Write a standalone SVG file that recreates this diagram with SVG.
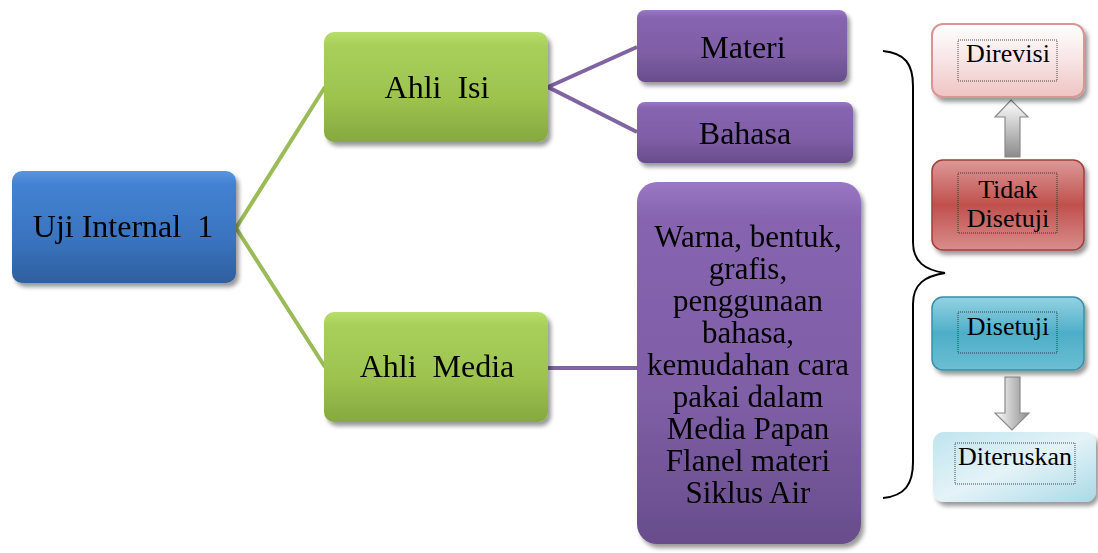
<svg xmlns="http://www.w3.org/2000/svg" width="1098" height="553" viewBox="0 0 1098 553">
<defs>
<filter id="sh" x="-10%" y="-10%" width="130%" height="130%">
<feDropShadow dx="3" dy="4" stdDeviation="2" flood-color="#000" flood-opacity="0.4"/>
</filter>
<linearGradient id="gBlue" x1="0" y1="0" x2="0" y2="1">
<stop offset="0" stop-color="#5a95e0"/><stop offset="0.12" stop-color="#4382d2"/><stop offset="0.6" stop-color="#3a74c0"/><stop offset="1" stop-color="#2f5f9e"/>
</linearGradient>
<linearGradient id="gGreen" x1="0" y1="0" x2="0" y2="1">
<stop offset="0" stop-color="#b8de6c"/><stop offset="0.12" stop-color="#a8d05a"/><stop offset="0.6" stop-color="#9dc34f"/><stop offset="1" stop-color="#86a83f"/>
</linearGradient>
<linearGradient id="gPurple" x1="0" y1="0" x2="0" y2="1">
<stop offset="0" stop-color="#9a78c4"/><stop offset="0.1" stop-color="#8764b0"/><stop offset="0.6" stop-color="#7f5ea6"/><stop offset="1" stop-color="#684d8b"/>
</linearGradient>
<linearGradient id="gPink" x1="0" y1="0" x2="0" y2="1">
<stop offset="0" stop-color="#ffffff"/><stop offset="0.5" stop-color="#f8e4e4"/><stop offset="1" stop-color="#eec4c3"/>
</linearGradient>
<linearGradient id="gRed" x1="0" y1="0" x2="0" y2="1">
<stop offset="0" stop-color="#dc9a98"/><stop offset="0.5" stop-color="#c0504d"/><stop offset="1" stop-color="#d88e8c"/>
</linearGradient>
<linearGradient id="gTeal" x1="0" y1="0" x2="0" y2="1">
<stop offset="0" stop-color="#93d2e2"/><stop offset="0.5" stop-color="#4eaec8"/><stop offset="1" stop-color="#6cbed3"/>
</linearGradient>
<linearGradient id="gLight" x1="0" y1="0" x2="1" y2="1">
<stop offset="0" stop-color="#bfe4ee"/><stop offset="0.5" stop-color="#e4f3f8"/><stop offset="1" stop-color="#a9d9e6"/>
</linearGradient>
<linearGradient id="gArrow" x1="0" y1="0" x2="1" y2="0">
<stop offset="0" stop-color="#ffffff"/><stop offset="1" stop-color="#8c8c8c"/>
</linearGradient>
<linearGradient id="gArrowV" x1="0" y1="0" x2="0" y2="1">
<stop offset="0" stop-color="#ffffff"/><stop offset="1" stop-color="#8a8a8a"/>
</linearGradient>
<style>
.t{font-family:"Liberation Serif","Times New Roman",serif;fill:#000;text-anchor:middle;white-space:pre}
.big{font-size:32px}
.mid{font-size:31px}
.sm{font-size:26px}
.dot{fill:none;stroke:#222;stroke-width:0.8;stroke-dasharray:1 1}
.cg{fill:none;stroke:#9bbb59;stroke-width:4}
.cp{fill:none;stroke:#8064a2;stroke-width:4}
.brace{fill:none;stroke:#000;stroke-width:2}
.arr{stroke:#8a8a8a;stroke-width:1.2}
</style>
</defs>

<g id="connectors">
<polyline class="cg" points="325,87 236,228 325,367"/>
<polyline class="cp" points="637,47 548,87 637,132"/>
<line class="cp" x1="548" y1="368" x2="637" y2="368"/>
<path class="brace" d="M883,51 C905,53 913,64 913,86 L913,242 C913,262 925,270 945,273 C925,276 913,284 913,304 L913,462 C913,484 905,496 883,498"/>
<path class="arr" fill="url(#gArrowV)" d="M1011,100 L1028,117 L1020,117 L1020,157 L1005,157 L1005,117 L995,117 Z"/>
<path class="arr" fill="url(#gArrow)" d="M1005,377 L1020,377 L1020,413 L1029,413 L1012,430 L995,413 L1005,413 Z"/>
</g>

<g id="uji" filter="url(#sh)">
<rect x="12" y="171" width="224" height="112" rx="10" fill="url(#gBlue)"/>
<text class="t big" x="123" y="237">Uji Internal  1</text>
</g>

<g id="ahli-isi" filter="url(#sh)">
<rect x="324" y="32" width="224" height="110" rx="10" fill="url(#gGreen)"/>
<text class="t big" x="437" y="98">Ahli  Isi</text>
</g>

<g id="ahli-media" filter="url(#sh)">
<rect x="324" y="312" width="224" height="110" rx="10" fill="url(#gGreen)"/>
<text class="t big" x="437" y="377">Ahli  Media</text>
</g>

<g id="materi" filter="url(#sh)">
<rect x="637" y="10" width="210" height="72" rx="8" fill="url(#gPurple)"/>
<text class="t big" x="743" y="58">Materi</text>
</g>

<g id="bahasa" filter="url(#sh)">
<rect x="637" y="102" width="216" height="61" rx="8" fill="url(#gPurple)"/>
<text class="t big" x="745" y="144">Bahasa</text>
</g>

<g id="kriteria" filter="url(#sh)">
<rect x="637" y="182" width="224" height="362" rx="20" fill="url(#gPurple)"/>
<text class="t mid" x="748" y="247">Warna, bentuk,</text>
<text class="t mid" x="748" y="279">grafis,</text>
<text class="t mid" x="748" y="311">penggunaan</text>
<text class="t mid" x="748" y="343">bahasa,</text>
<text class="t mid" x="748" y="375">kemudahan cara</text>
<text class="t mid" x="748" y="407">pakai dalam</text>
<text class="t mid" x="748" y="439">Media Papan</text>
<text class="t mid" x="748" y="471">Flanel materi</text>
<text class="t mid" x="748" y="503">Siklus Air</text>
</g>

<g id="direvisi">
<rect x="932" y="24" width="152" height="73" rx="11" fill="url(#gPink)" stroke="#d99594" stroke-width="2" filter="url(#sh)"/>
<rect class="dot" x="958" y="40" width="99" height="41"/>
<text class="t sm" x="1008" y="62">Direvisi</text>
</g>

<g id="tidak-disetuji">
<rect x="932" y="160" width="152" height="90" rx="11" fill="url(#gRed)" stroke="#a33e3b" stroke-width="1.5" filter="url(#sh)"/>
<rect class="dot" x="958" y="173" width="99" height="60"/>
<text class="t sm" x="1008" y="198">Tidak</text>
<text class="t sm" x="1008" y="227">Disetuji</text>
</g>

<g id="disetuji">
<rect x="932" y="297" width="152" height="73" rx="11" fill="url(#gTeal)" stroke="#3a8ea6" stroke-width="1.5" filter="url(#sh)"/>
<rect class="dot" x="958" y="312" width="99" height="41"/>
<text class="t sm" x="1008" y="335">Disetuji</text>
</g>

<g id="diteruskan">
<rect x="933" y="432" width="163" height="70" rx="11" fill="url(#gLight)" filter="url(#sh)"/>
<rect class="dot" x="955" y="443" width="120" height="41"/>
<text class="t sm" x="1015" y="465">Diteruskan</text>
</g>
</svg>
